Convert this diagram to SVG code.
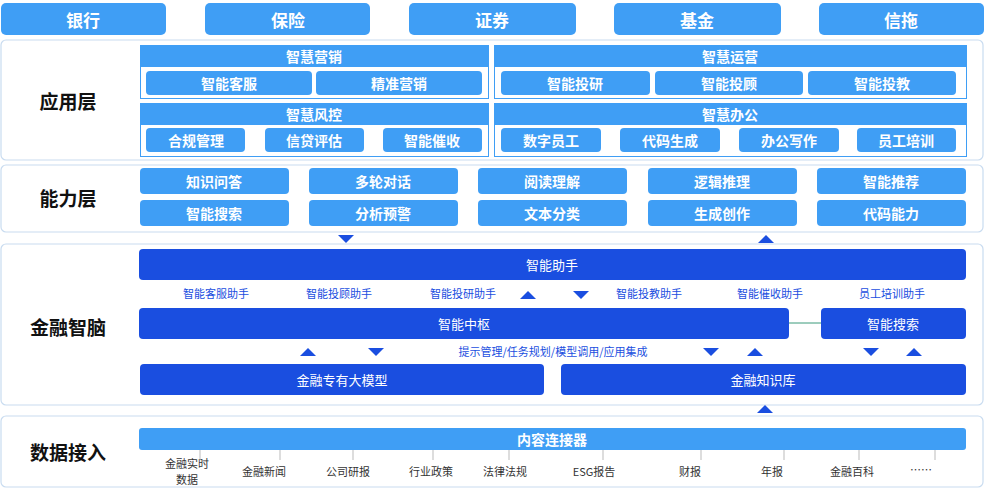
<svg xmlns="http://www.w3.org/2000/svg" width="985" height="495" viewBox="0 0 985 495">
<style>
text{font-family:"Noto Sans CJK SC","Noto Sans",sans-serif;text-anchor:middle;dominant-baseline:central}
.lb{fill:#3f9ef5}
.db{fill:#1a4ee0}
.panel{fill:#fff;stroke:#c9dcf0;stroke-width:1.2}
.w{fill:#fff;font-weight:bold;font-size:14px}
.w2{fill:#fff;font-size:13px}
.top{fill:#fff;font-weight:bold;font-size:17px}
.lay{fill:#111;font-weight:bold;font-size:19px}
.sm{fill:#1a4ee0;font-size:11px}
.dt{fill:#333;font-size:11px}
.sub{fill:none;stroke:#3f9ef5;stroke-width:1}
.tk{stroke:#bbb;stroke-width:1}
.arr{fill:#1a4ee0}
</style>
<rect width="985" height="495" fill="#fff"/>
<g id="industries">
<rect class="lb" x="1" y="3" width="165" height="32" rx="5"/><text class="top" x="83" y="19">银行</text>
<rect class="lb" x="205" y="3" width="165" height="32" rx="5"/><text class="top" x="288" y="19">保险</text>
<rect class="lb" x="409" y="3" width="167" height="32" rx="5"/><text class="top" x="492" y="19">证券</text>
<rect class="lb" x="614" y="3" width="167" height="32" rx="5"/><text class="top" x="697" y="19">基金</text>
<rect class="lb" x="819" y="3" width="165" height="32" rx="5"/><text class="top" x="901" y="19">信拖</text>
</g>
<g id="app-layer">
<rect class="panel" x="1" y="40" width="982" height="120" rx="5"/>
<text class="lay" x="68" y="100">应用层</text>
<rect class="sub" x="140.5" y="45.5" width="348" height="53"/>
<rect class="lb" x="140" y="45" width="349" height="22"/><text class="w" x="314" y="56" font-size="13">智慧营销</text>
<rect class="lb" x="146" y="71" width="166" height="24" rx="4"/><text class="w" x="229" y="83">智能客服</text>
<rect class="lb" x="316" y="71" width="166" height="24" rx="4"/><text class="w" x="399" y="83">精准营销</text>
<rect class="sub" x="140.5" y="103.5" width="348" height="53"/>
<rect class="lb" x="140" y="103" width="349" height="22"/><text class="w" x="314" y="114" font-size="13">智慧风控</text>
<rect class="lb" x="146" y="128" width="99" height="24" rx="4"/><text class="w" x="196" y="140">合规管理</text>
<rect class="lb" x="265" y="128" width="99" height="24" rx="4"/><text class="w" x="314" y="140">信贷评估</text>
<rect class="lb" x="383" y="128" width="99" height="24" rx="4"/><text class="w" x="432" y="140">智能催收</text>
<rect class="sub" x="494.5" y="45.5" width="472" height="53"/>
<rect class="lb" x="494" y="45" width="473" height="22"/><text class="w" x="730" y="56" font-size="13">智慧运营</text>
<rect class="lb" x="501" y="71" width="149" height="24" rx="4"/><text class="w" x="575" y="83">智能投研</text>
<rect class="lb" x="655" y="71" width="148" height="24" rx="4"/><text class="w" x="729" y="83">智能投顾</text>
<rect class="lb" x="808" y="71" width="148" height="24" rx="4"/><text class="w" x="882" y="83">智能投教</text>
<rect class="sub" x="494.5" y="103.5" width="472" height="53"/>
<rect class="lb" x="494" y="103" width="473" height="22"/><text class="w" x="730" y="114" font-size="13">智慧办公</text>
<rect class="lb" x="501" y="128" width="100" height="24" rx="4"/><text class="w" x="551" y="140">数字员工</text>
<rect class="lb" x="620" y="128" width="100" height="24" rx="4"/><text class="w" x="670" y="140">代码生成</text>
<rect class="lb" x="739" y="128" width="100" height="24" rx="4"/><text class="w" x="789" y="140">办公写作</text>
<rect class="lb" x="857" y="128" width="99" height="24" rx="4"/><text class="w" x="906" y="140">员工培训</text>
</g>
<g id="ability-layer">
<rect class="panel" x="1" y="165" width="982" height="67" rx="5"/>
<text class="lay" x="68" y="197">能力层</text>
<rect class="lb" x="140" y="168" width="149" height="26" rx="4"/><text class="w" x="214" y="181">知识问答</text>
<rect class="lb" x="309" y="168" width="149" height="26" rx="4"/><text class="w" x="383" y="181">多轮对话</text>
<rect class="lb" x="478" y="168" width="149" height="26" rx="4"/><text class="w" x="552" y="181">阅读理解</text>
<rect class="lb" x="648" y="168" width="149" height="26" rx="4"/><text class="w" x="722" y="181">逻辑推理</text>
<rect class="lb" x="817" y="168" width="149" height="26" rx="4"/><text class="w" x="891" y="181">智能推荐</text>
<rect class="lb" x="140" y="200" width="149" height="26" rx="4"/><text class="w" x="214" y="213">智能搜索</text>
<rect class="lb" x="309" y="200" width="149" height="26" rx="4"/><text class="w" x="383" y="213">分析预警</text>
<rect class="lb" x="478" y="200" width="149" height="26" rx="4"/><text class="w" x="552" y="213">文本分类</text>
<rect class="lb" x="648" y="200" width="149" height="26" rx="4"/><text class="w" x="722" y="213">生成创作</text>
<rect class="lb" x="817" y="200" width="149" height="26" rx="4"/><text class="w" x="891" y="213">代码能力</text>
</g>
<g id="brain-layer">
<rect class="panel" x="1" y="244" width="982" height="161" rx="5"/>
<text class="lay" x="68" y="326">金融智脑</text>
<rect class="db" x="139" y="249" width="827" height="31" rx="4"/><text class="w2" x="552" y="264">智能助手</text>
<text class="sm" x="216" y="293">智能客服助手</text>
<text class="sm" x="339" y="293">智能投顾助手</text>
<text class="sm" x="463" y="293">智能投研助手</text>
<text class="sm" x="649" y="293">智能投教助手</text>
<text class="sm" x="770" y="293">智能催收助手</text>
<text class="sm" x="892" y="293">员工培训助手</text>
<rect class="db" x="139" y="308" width="650" height="31" rx="4"/><text class="w2" x="464" y="323">智能中枢</text>
<rect class="db" x="821" y="308" width="145" height="31" rx="4"/><text class="w2" x="893" y="323">智能搜索</text>
<text class="sm" x="553" y="351">提示管理/任务规划/模型调用/应用集成</text>
<rect class="db" x="140" y="364" width="404" height="31" rx="4"/><text class="w2" x="342" y="379">金融专有大模型</text>
<rect class="db" x="561" y="364" width="405" height="31" rx="4"/><text class="w2" x="763" y="379">金融知识库</text>
</g>
<g id="data-layer">
<rect class="panel" x="1" y="416" width="982" height="71" rx="5"/>
<text class="lay" x="68" y="451">数据接入</text>
<rect class="lb" x="139" y="428" width="827" height="22" rx="3"/><text class="w" x="552" y="439" font-size="13">内容连接器</text>
<text class="dt" x="187" y="463">金融实时</text><text class="dt" x="187" y="479">数据</text>
<text class="dt" x="264" y="471">金融新闻</text>
<text class="dt" x="348" y="471">公司研报</text>
<text class="dt" x="431" y="471">行业政策</text>
<text class="dt" x="505" y="471">法律法规</text>
<text class="dt" x="594" y="471">ESG报告</text>
<text class="dt" x="690" y="471">财报</text>
<text class="dt" x="772" y="471">年报</text>
<text class="dt" x="852" y="471">金融百科</text>
<text class="dt" x="921" y="469">……</text>
</g>
<g id="connectors">
<line x1="789" y1="323" x2="821" y2="323" stroke="#3a9a7a" stroke-width="1"/>
<g class="tk">
<line x1="200" y1="450" x2="200" y2="460"/><line x1="280" y1="450" x2="280" y2="460"/><line x1="353" y1="450" x2="353" y2="460"/><line x1="433" y1="450" x2="433" y2="460"/><line x1="509" y1="450" x2="509" y2="460"/><line x1="603" y1="450" x2="603" y2="460"/><line x1="701" y1="450" x2="701" y2="460"/><line x1="784" y1="450" x2="784" y2="460"/><line x1="859" y1="450" x2="859" y2="460"/><line x1="935" y1="450" x2="935" y2="460"/>
</g>
<g class="arr">
<polygon points="338,235 354,235 346,243"/>
<polygon points="758,243 774,243 766,235"/>
<polygon points="520,299 536,299 528,291"/>
<polygon points="573,291 589,291 581,299"/>
<polygon points="300,356 316,356 308,348"/>
<polygon points="368,348 384,348 376,356"/>
<polygon points="703,348 719,348 711,356"/>
<polygon points="747,356 763,356 755,348"/>
<polygon points="863,348 879,348 871,356"/>
<polygon points="906,356 922,356 914,348"/>
<polygon points="757,413 773,413 765,405"/>
</g>
</g>
</svg>
